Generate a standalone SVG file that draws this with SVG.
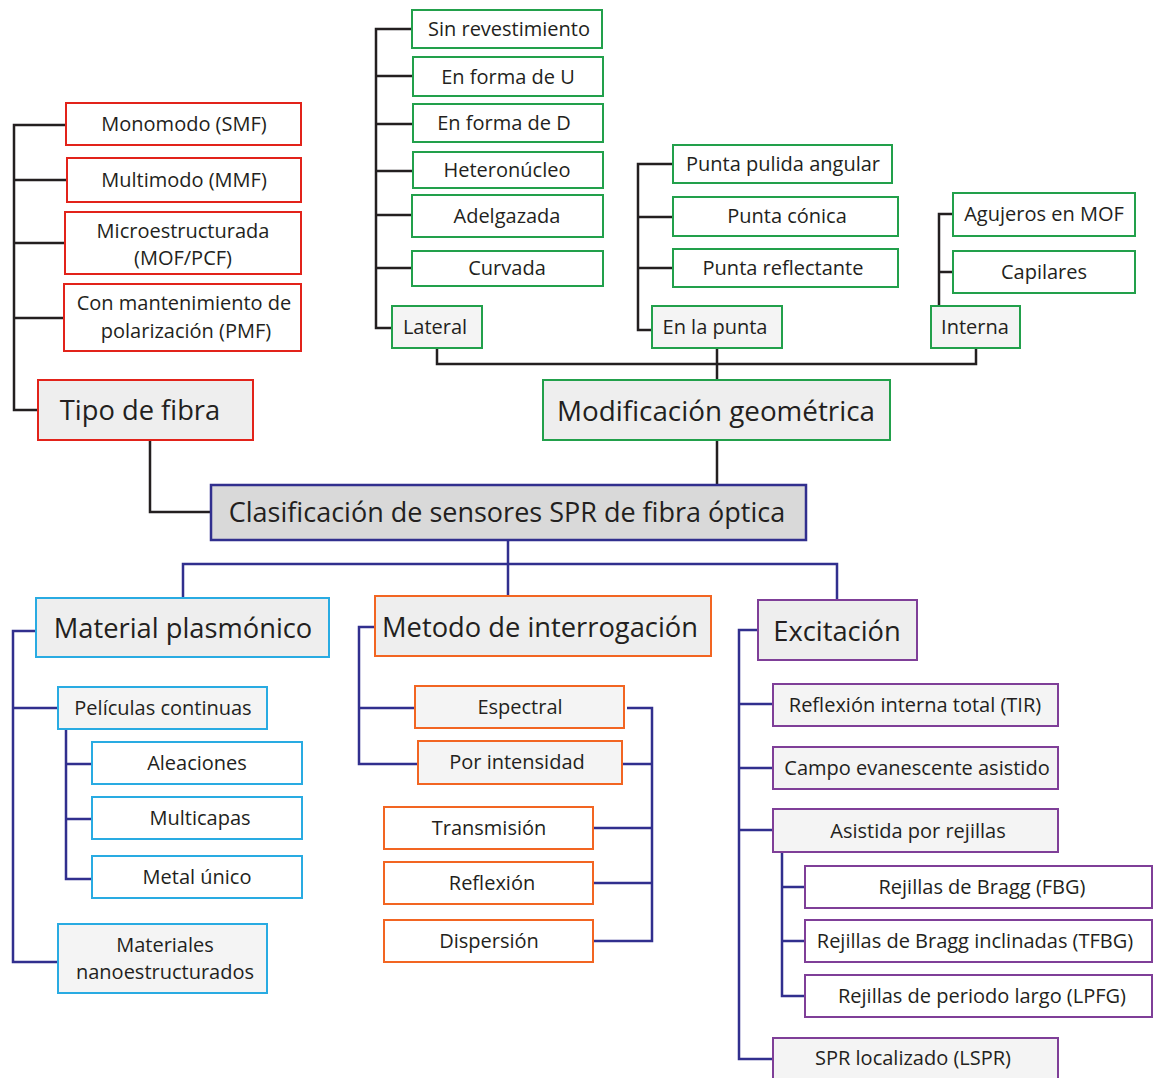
<svg xmlns="http://www.w3.org/2000/svg" width="1153" height="1078" viewBox="0 0 1153 1078">
<style>
text{font-family:"Open Sans","Liberation Sans",sans-serif;fill:#231f20;text-anchor:middle;font-size:20px}
.t{font-size:27.3px}
.red{fill:#fff;stroke:#e2231a;stroke-width:2}
.grn{fill:#fff;stroke:#22a04b;stroke-width:2}
.blu{fill:#fff;stroke:#29abe2;stroke-width:2}
.org{fill:#fff;stroke:#f26522;stroke-width:2}
.pur{fill:#fff;stroke:#7f3f98;stroke-width:2}
.g1{fill:#eeeeee}
.g2{fill:#f4f4f4}
.blk{fill:none;stroke:#231f20;stroke-width:2.5}
.nav{fill:none;stroke:#312f8e;stroke-width:2.5}
</style>
<rect width="1153" height="1078" fill="#fff"/>
<g id="connectors">
<path class="blk" d="M66,125H14V410H38M14,180H67M14,243H65M14,318H64"/>
<path class="blk" d="M150,440V512H211"/>
<path class="blk" d="M412,29H376V328H392M376,76H413M376,124H413M376,171H413M376,215H412M376,268H412"/>
<path class="blk" d="M673,164H638V330H652M638,217H673M638,268H673"/>
<path class="blk" d="M953,214H939V306M939,272H953"/>
<path class="blk" d="M437,348V364H976V348M717,348V380M717,440V485"/>
<path class="nav" d="M508,540V564M183,598V564H837V601M508,564V597"/>
<path class="nav" d="M36,631H13V962H58M13,708H58"/>
<path class="nav" d="M66,729V879H92M66,764H92M66,819H92"/>
<path class="nav" d="M375,627H359V764H418M359,708H415"/>
<path class="nav" d="M627,708H652V941H593M622,764H652M593,828H652M593,883H652"/>
<path class="nav" d="M758,630H739V1059H773M739,704H773M739,768H773M739,830H773"/>
<path class="nav" d="M782,852V996H805M782,887H805M782,941H805"/>
</g>
<g id="clasificacion"><rect x="211" y="485" width="595" height="55" fill="#d9d9d9" stroke="#312f8e" stroke-width="2.5"/><text x="507" y="522" style="font-size:27px">Clasificación de sensores SPR de fibra óptica</text></g>
<g id="tipo"><rect class="red g1" x="38" y="380" width="215" height="60"/><text class="t" x="140" y="420">Tipo de fibra</text></g>
<g id="smf"><rect class="red" x="66" y="103" width="235" height="42"/><text x="184" y="131">Monomodo (SMF)</text></g>
<g id="mmf"><rect class="red" x="67" y="158" width="234" height="44"/><text x="184" y="187">Multimodo (MMF)</text></g>
<g id="mof"><rect class="red" x="65" y="212" width="236" height="62"/><text x="183" y="238">Microestructurada</text><text x="183" y="265">(MOF/PCF)</text></g>
<g id="pmf"><rect class="red" x="64" y="284" width="237" height="67"/><text x="184" y="310">Con mantenimiento de</text><text x="186" y="338">polarización (PMF)</text></g>
<g id="modificacion"><rect class="grn g1" x="543" y="380" width="347" height="60"/><text class="t" x="716" y="421" style="font-size:27.8px">Modificación geométrica</text></g>
<g id="sinrev"><rect class="grn" x="412" y="10" width="190" height="38"/><text x="509" y="36">Sin revestimiento</text></g>
<g id="formaU"><rect class="grn" x="413" y="57" width="190" height="39"/><text x="508" y="84">En forma de U</text></g>
<g id="formaD"><rect class="grn" x="413" y="104" width="190" height="38"/><text x="504" y="130">En forma de D</text></g>
<g id="hetero"><rect class="grn" x="413" y="152" width="190" height="36"/><text x="507" y="177">Heteronúcleo</text></g>
<g id="adelg"><rect class="grn" x="412" y="195" width="191" height="42"/><text x="507" y="223">Adelgazada</text></g>
<g id="curvada"><rect class="grn" x="412" y="251" width="191" height="35"/><text x="507" y="275">Curvada</text></g>
<g id="lateral"><rect class="grn g2" x="392" y="306" width="90" height="42"/><text x="435" y="334">Lateral</text></g>
<g id="pulida"><rect class="grn" x="673" y="145" width="219" height="38"/><text x="783" y="171">Punta pulida angular</text></g>
<g id="conica"><rect class="grn" x="673" y="197" width="225" height="39"/><text x="787" y="223">Punta cónica</text></g>
<g id="reflect"><rect class="grn" x="673" y="249" width="225" height="38"/><text x="783" y="275">Punta reflectante</text></g>
<g id="punta"><rect class="grn g2" x="652" y="306" width="130" height="42"/><text x="715" y="334">En la punta</text></g>
<g id="agujeros"><rect class="grn" x="953" y="193" width="182" height="43"/><text x="1044" y="221">Agujeros en MOF</text></g>
<g id="capilares"><rect class="grn" x="953" y="251" width="182" height="42"/><text x="1044" y="279">Capilares</text></g>
<g id="interna"><rect class="grn g2" x="931" y="306" width="89" height="42"/><text x="975" y="334">Interna</text></g>
<g id="material"><rect class="blu g1" x="36" y="598" width="293" height="59"/><text class="t" x="183" y="638">Material plasmónico</text></g>
<g id="peliculas"><rect class="blu g2" x="58" y="687" width="209" height="42"/><text x="163" y="715">Películas continuas</text></g>
<g id="aleaciones"><rect class="blu" x="92" y="742" width="210" height="42"/><text x="197" y="770">Aleaciones</text></g>
<g id="multicapas"><rect class="blu" x="92" y="797" width="210" height="42"/><text x="200" y="825">Multicapas</text></g>
<g id="metal"><rect class="blu" x="92" y="856" width="210" height="42"/><text x="197" y="884">Metal único</text></g>
<g id="nano"><rect class="blu g2" x="58" y="924" width="209" height="69"/><text x="165" y="952">Materiales</text><text x="165" y="979">nanoestructurados</text></g>
<g id="metodo"><rect class="org g1" x="375" y="596" width="336" height="60"/><text class="t" x="540" y="637">Metodo de interrogación</text></g>
<g id="espectral"><rect class="org g2" x="415" y="686" width="209" height="42"/><text x="520" y="714">Espectral</text></g>
<g id="intensidad"><rect class="org g2" x="418" y="741" width="204" height="43"/><text x="517" y="769">Por intensidad</text></g>
<g id="transmision"><rect class="org" x="384" y="807" width="209" height="42"/><text x="489" y="835">Transmisión</text></g>
<g id="reflexion"><rect class="org" x="384" y="862" width="209" height="42"/><text x="492" y="890">Reflexión</text></g>
<g id="dispersion"><rect class="org" x="384" y="920" width="209" height="42"/><text x="489" y="948">Dispersión</text></g>
<g id="excitacion"><rect class="pur g1" x="758" y="600" width="159" height="60"/><text class="t" x="837" y="641">Excitación</text></g>
<g id="tir"><rect class="pur g2" x="773" y="684" width="285" height="42"/><text x="915" y="712">Reflexión interna total (TIR)</text></g>
<g id="campo"><rect class="pur g2" x="773" y="747" width="285" height="42"/><text x="917" y="775">Campo evanescente asistido</text></g>
<g id="rejillas"><rect class="pur g2" x="773" y="809" width="285" height="43"/><text x="918" y="838">Asistida por rejillas</text></g>
<g id="fbg"><rect class="pur" x="805" y="866" width="347" height="42"/><text x="982" y="894">Rejillas de Bragg (FBG)</text></g>
<g id="tfbg"><rect class="pur" x="805" y="920" width="347" height="42"/><text x="975" y="948">Rejillas de Bragg inclinadas (TFBG)</text></g>
<g id="lpfg"><rect class="pur" x="805" y="975" width="347" height="42"/><text x="982" y="1003">Rejillas de periodo largo (LPFG)</text></g>
<g id="lspr"><rect class="pur g2" x="773" y="1038" width="285" height="45"/><text x="913" y="1065">SPR localizado (LSPR)</text></g>
</svg>
